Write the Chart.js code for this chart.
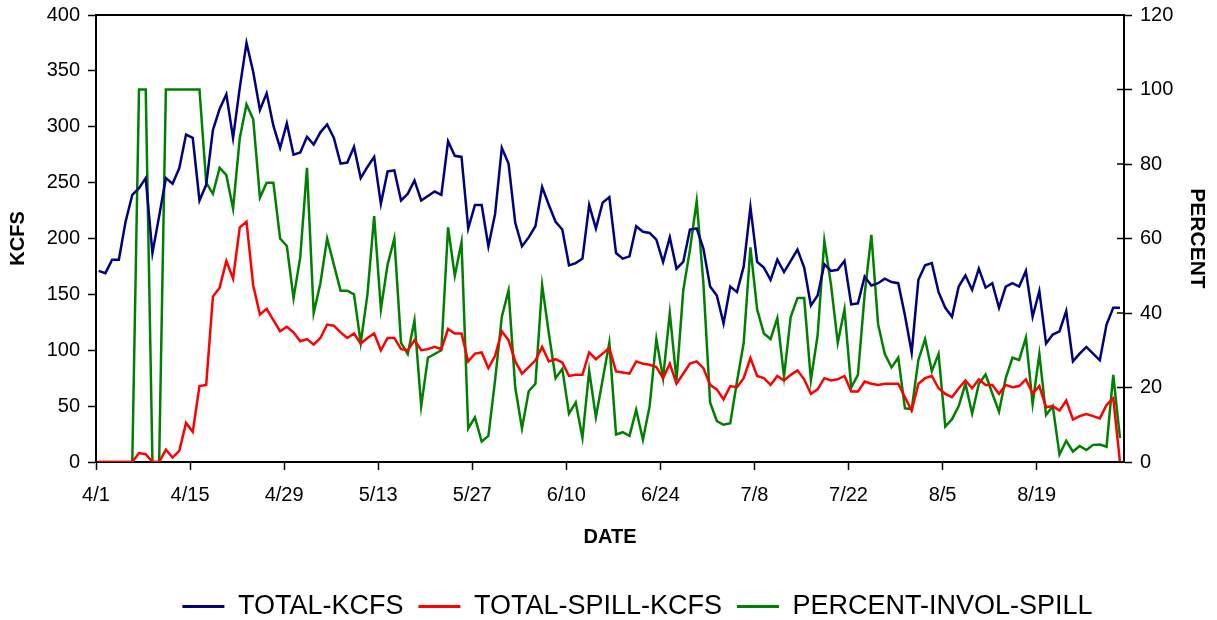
<!DOCTYPE html>
<html>
<head>
<meta charset="utf-8">
<script src="https://cdn.jsdelivr.net/npm/chart.js@4"></script>
<style>
  html, body { margin: 0; padding: 0; background: #fff; }
  #wrap { width: 1217px; height: 620px; }
</style>
</head>
<body>
<div id="wrap"><canvas id="flowChart" width="1217" height="620"></canvas></div>
<script>
// Daily values 4/1 .. 8/31
const totalKcfs = [
  171, 169, 181, 181, 215, 239, 245, 254, 187, 220,
  254, 249, 263, 293, 290, 234, 248, 297, 316, 329,
  290, 335, 375, 349, 315, 330, 301, 281, 303, 275,
  277, 291, 284, 295, 302, 290, 267, 268, 282, 254,
  264, 273, 231, 260, 261, 234, 240, 252, 234, 238,
  242, 239, 287, 274, 273, 209, 230, 230, 193, 222,
  281, 267, 214, 193, 201, 211, 246, 230, 215, 208,
  176, 178, 182, 230, 209, 232, 237, 187, 182, 184,
  211, 206, 205, 199, 179, 201, 173, 179, 208, 209,
  191, 157, 149, 124, 157, 152, 175, 228, 179, 174,
  163, 181, 170, 180, 190, 174, 140, 149, 177, 171,
  172, 180, 141, 142, 166, 158, 160, 164, 161, 160,
  131, 98, 163, 176, 178, 152, 138, 130, 157, 167,
  154, 173, 156, 160, 138, 157, 160, 157, 171, 130,
  153, 106, 114, 117, 135, 90, 97, 103, 97, 91,
  123, 138, 138
];

const totalSpillKcfs = [
  0, 0, 0, 0, 0, 0, 8, 7, 0, 0,
  11, 4, 10, 35, 27, 68, 69, 148, 156, 180,
  164, 210, 215, 158, 132, 137, 127, 117, 121, 116,
  108, 110, 105, 111, 123, 122, 116, 111, 115, 106,
  111, 115, 100, 111, 111, 101, 100, 109, 100, 101,
  103, 101, 119, 115, 115, 90, 97, 98, 84, 95,
  117, 109, 90, 79, 85, 91, 103, 90, 92, 89,
  77, 78, 78, 98, 92, 97, 102, 81, 80, 79,
  90, 88, 87, 85, 75, 88, 70, 79, 88, 90,
  84, 69, 65, 56, 68, 67, 75, 93, 77, 75,
  69, 77, 73, 78, 82, 74, 61, 65, 75, 73,
  74, 77, 63, 63, 72, 70, 69, 70, 70, 70,
  58, 46, 70, 75, 77, 66, 61, 58, 66, 73,
  66, 74, 69, 69, 61, 69, 67, 68, 74, 61,
  68, 49, 50, 46, 55, 38, 41, 43, 41, 39,
  51, 57, 0
];

const percentInvolSpill = [
  0, 0, 0, 0, 0, 0, 100, 100, 0, 0,
  100, 100, 100, 100, 100, 100, 75, 72, 79, 77,
  68, 87, 96, 92, 71, 75, 75, 60, 58, 44,
  55, 79, 40, 48, 60, 53, 46, 46, 45, 32,
  45, 66, 41, 53, 60, 32, 29, 38, 15, 28,
  29, 30, 63, 50, 59, 9, 12, 5.5, 7, 22,
  39, 46, 20, 9, 19, 21, 47.5, 34.5, 22.5, 25,
  13, 16, 6.5, 24.5, 12, 22, 32, 7.4, 8, 7,
  14, 6, 15, 33, 22.5, 40, 22, 46, 57, 70,
  48, 16, 11, 10, 10.4, 21.6, 32, 57.6, 41, 34.5,
  33, 38.6, 23, 39, 44, 44, 22, 34, 59.4, 47.5,
  32, 41, 20, 23.4, 45, 61, 37, 29, 25.4, 28,
  14.4, 14.2, 27.4, 33, 24.4, 29, 9.5, 11.5, 15, 21,
  13, 21, 23.5, 18.4, 13.5, 22.5, 28, 27.4, 33.4, 15.6,
  29, 12.6, 15, 2, 5.7, 2.8, 4.3, 3.2, 4.6, 4.7,
  4.1, 23.4, 6.4
];

// tick every 14 days from 4/1
const tickDays = [0, 14, 28, 42, 56, 70, 84, 98, 112, 126, 140];
const tickLabels = ['4/1', '4/15', '4/29', '5/13', '5/27', '6/10', '6/24', '7/8', '7/22', '8/5', '8/19'];

const FONT = "'Liberation Sans', Arial, sans-serif";

function toPoints(values) {
  return values.map((v, i) => ({ x: i + 0.4, y: v }));
}

// fixed axis widths, no extra label padding above/below the plot
function fixWidth(w) {
  return function(scale) {
    scale.width = w;
    scale.paddingTop = 0;
    scale.paddingBottom = 0;
  };
}

// top edge of the plot box + right axis ticks that cross into the plot
const plotFrame = {
  id: 'plotFrame',
  afterDatasetsDraw(chart) {
    const { ctx, chartArea } = chart;
    const right = chart.scales.y1;
    ctx.save();
    ctx.strokeStyle = '#000';
    ctx.lineWidth = 2;
    ctx.beginPath();
    ctx.moveTo(chartArea.left, chartArea.top);
    ctx.lineTo(chartArea.right, chartArea.top);
    ctx.stroke();
    ctx.lineWidth = 1.5;
    ctx.beginPath();
    right.ticks.forEach(t => {
      const y = right.getPixelForValue(t.value);
      ctx.moveTo(chartArea.right - 7, y);
      ctx.lineTo(chartArea.right, y);
    });
    ctx.stroke();
    ctx.restore();
  }
};

// legend sits a bit right of center and lower in the original
const legendShift = {
  id: 'legendShift',
  afterLayout(chart) {
    const l = chart.legend;
    l.left += 29; l.right += 29;
    l.top += 10; l.bottom += 10;
  }
};

new Chart(document.getElementById('flowChart'), {
  type: 'line',
  data: {
    datasets: [
      {
        label: 'TOTAL-KCFS',
        data: toPoints(totalKcfs),
        borderColor: '#000080',
        backgroundColor: '#000080',
        borderWidth: 2.5,
        yAxisID: 'y'
      },
      {
        label: 'TOTAL-SPILL-KCFS',
        data: toPoints(totalSpillKcfs),
        borderColor: '#ff0000',
        backgroundColor: '#ff0000',
        borderWidth: 2.5,
        yAxisID: 'y'
      },
      {
        label: 'PERCENT-INVOL-SPILL',
        data: toPoints(percentInvolSpill),
        borderColor: '#008000',
        backgroundColor: '#008000',
        borderWidth: 2.5,
        yAxisID: 'y1'
      }
    ]
  },
  options: {
    responsive: false,
    animation: false,
    layout: { padding: { top: 15, left: 0, right: 0, bottom: 0 } },
    elements: { point: { radius: 0 }, line: { tension: 0 } },
    plugins: {
      tooltip: { enabled: false },
      legend: {
        position: 'bottom',
        labels: {
          boxWidth: 42,
          boxHeight: 3,
          padding: 15,
          color: '#000',
          font: { family: FONT, size: 27 },
          generateLabels(chart) {
            return Chart.defaults.plugins.legend.labels.generateLabels(chart)
              .map(item => Object.assign(item, { lineWidth: 0 }));
          }
        }
      }
    },
    scales: {
      x: {
        type: 'linear',
        min: 0,
        max: 153,
        afterBuildTicks(scale) {
          scale.ticks = tickDays.map(v => ({ value: v }));
        },
        afterFit(scale) { scale.height = 106; },
        ticks: {
          autoSkip: false,
          maxRotation: 0,
          padding: 13,
          color: '#000',
          font: { family: FONT, size: 20 },
          callback: (value) => tickLabels[tickDays.indexOf(value)]
        },
        grid: { drawOnChartArea: false, tickLength: 8, tickColor: '#000', tickWidth: 1.5 },
        border: { color: '#000', width: 2 },
        title: {
          display: true,
          text: 'DATE',
          color: '#000',
          font: { family: FONT, size: 20, weight: 'bold' },
          padding: { top: 0, bottom: 19 }
        }
      },
      y: {
        position: 'left',
        min: 0,
        max: 400,
        afterFit: fixWidth(96),
        ticks: {
          stepSize: 50,
          padding: 8,
          color: '#000',
          font: { family: FONT, size: 20 }
        },
        grid: { drawOnChartArea: false, tickLength: 8, tickColor: '#000', tickWidth: 1.5 },
        border: { color: '#000', width: 2 },
        title: {
          display: true,
          text: 'KCFS',
          color: '#000',
          font: { family: FONT, size: 20, weight: 'bold' },
          padding: { top: 6, bottom: 0 }
        }
      },
      y1: {
        position: 'right',
        min: 0,
        max: 120,
        afterFit: fixWidth(93),
        ticks: {
          stepSize: 20,
          padding: 8,
          color: '#000',
          font: { family: FONT, size: 20 }
        },
        grid: { drawOnChartArea: false, tickLength: 8, tickColor: '#000', tickWidth: 1.5 },
        border: { color: '#000', width: 2 },
        title: {
          display: true,
          text: 'PERCENT',
          color: '#000',
          font: { family: FONT, size: 21, weight: 'bold' },
          padding: { top: 8, bottom: 0 }
        }
      }
    }
  },
  plugins: [plotFrame, legendShift]
});
</script>
</body>
</html>
